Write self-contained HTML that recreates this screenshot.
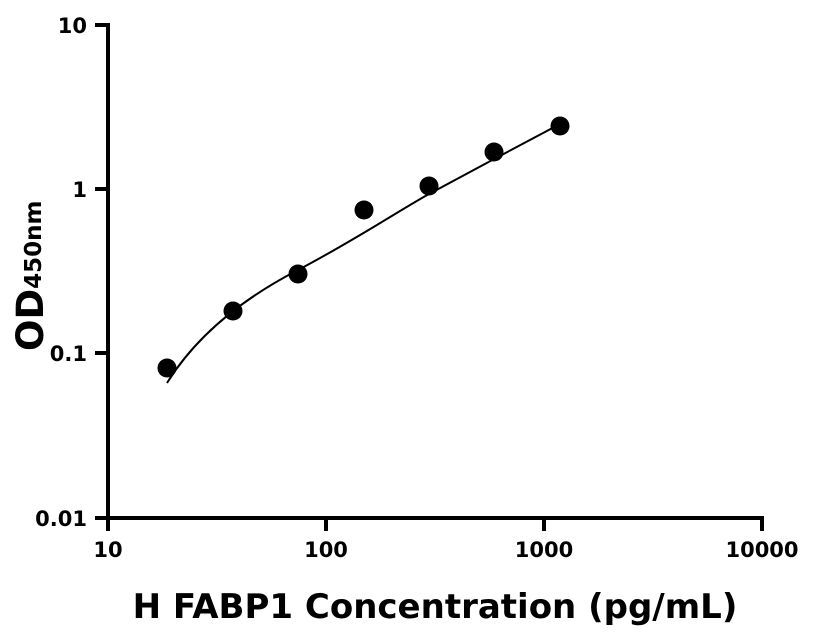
<!DOCTYPE html>
<html><head><style>body{margin:0;background:#fff}svg{display:block}text{font-family:"DejaVu Sans","Liberation Sans",sans-serif;font-weight:bold;fill:#000}</style></head>
<body>
<svg width="816" height="640" viewBox="0 0 816 640" xmlns="http://www.w3.org/2000/svg">
<g stroke="#000" stroke-width="4" fill="none">
<path d="M108,23 V520"/>
<path d="M106,518 H764"/>
<path d="M95,25 H108 M95,189 H108 M95,353 H108 M95,518 H108"/>
<path d="M108,518 V531 M326,518 V531 M544,518 V531 M762,518 V531"/>
</g>
<path d="M167,383 C195,338 240,300 298,270 C355,240 400,210 429,194 C470,172 520,145 560,124" stroke="#000" stroke-width="2" fill="none"/>
<g fill="#000">
<circle cx="167" cy="368" r="9.5"/><circle cx="233" cy="311" r="9.5"/><circle cx="298" cy="274" r="9.5"/><circle cx="364" cy="210" r="9.5"/><circle cx="429" cy="186" r="9.5"/><circle cx="494" cy="152" r="9.5"/><circle cx="560" cy="126" r="9.5"/>
</g>
<g font-size="21" text-anchor="end">
<text x="87" y="33">10</text><text x="87" y="197">1</text><text x="87" y="361">0.1</text><text x="87" y="526">0.01</text>
</g>
<g font-size="21" text-anchor="middle">
<text x="108" y="557">10</text><text x="326" y="557">100</text><text x="544" y="557">1000</text><text x="762" y="557">10000</text>
</g>
<text x="435" y="618" font-size="34" text-anchor="middle">H FABP1 Concentration (pg/mL)</text>
<text transform="translate(43,351) rotate(-90)" font-size="37">OD<tspan font-size="23" dy="-2">450nm</tspan></text>
</svg>
</body></html>
